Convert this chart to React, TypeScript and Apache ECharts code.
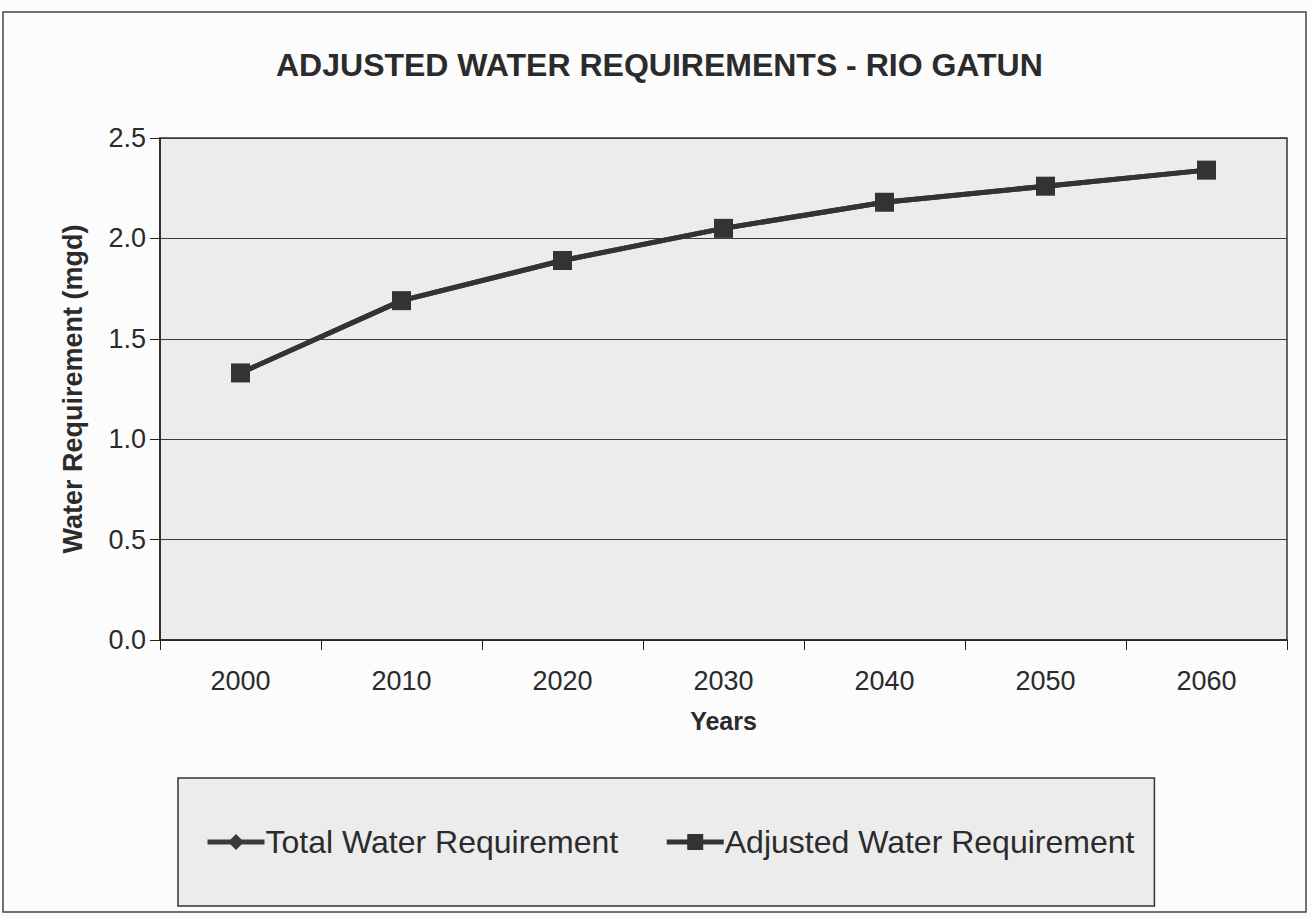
import React, { useEffect, useRef } from "react";
import * as echarts from "echarts";

const years = ["2000", "2010", "2020", "2030", "2040", "2050", "2060"];
const totalWaterRequirement = [1.33, 1.69, 1.89, 2.05, 2.18, 2.26, 2.34];
const adjustedWaterRequirement = [1.33, 1.69, 1.89, 2.05, 2.18, 2.26, 2.34];
const yTicks = { min: 0, max: 2.5, interval: 0.5 };

const FONT = "'Liberation Sans', Arial, sans-serif";
const INK = "#2b2b2b";

export default function App() {
  const ref = useRef<HTMLDivElement>(null);
  useEffect(() => {
    if (!ref.current) return;
    const chart = echarts.init(ref.current, undefined, { renderer: "svg" });
    chart.setOption({
      animation: false,
      backgroundColor: "#fcfcfc",
      textStyle: { fontFamily: FONT, color: INK },
      title: {
        text: "ADJUSTED WATER REQUIREMENTS - RIO GATUN",
        left: 271,
        top: 44,
        textStyle: { fontFamily: FONT, fontSize: 32, fontWeight: "bold", color: INK },
      },
      graphic: [
        {
          type: "rect",
          shape: { x: 3, y: 12, width: 1303, height: 900 },
          style: { fill: "none", stroke: "#444", lineWidth: 1.5 },
          silent: true,
        },
      ],
      legend: {
        left: 178,
        top: 778,
        orient: "horizontal",
        backgroundColor: "#ececec",
        borderColor: "#333",
        borderWidth: 1.5,
        borderRadius: 0,
        padding: [48, 20, 48, 27],
        itemWidth: 57,
        itemHeight: 20,
        itemGap: 46,
        lineStyle: { width: 5 },
        textStyle: { fontFamily: FONT, fontSize: 32, color: INK, padding: [0, 0, 0, -4] },
        data: ["Total Water Requirement", "Adjusted Water Requirement"],
      },
      grid: {
        left: 160,
        right: 24,
        top: 138,
        bottom: 278,
        show: true,
        backgroundColor: "#ececec",
        borderColor: "#333",
        borderWidth: 1.5,
      },
      xAxis: {
        type: "category",
        data: years,
        boundaryGap: true,
        name: "Years",
        nameLocation: "middle",
        nameGap: 68,
        nameTextStyle: { fontFamily: FONT, fontSize: 25, fontWeight: "bold", color: INK },
        axisLine: { lineStyle: { color: "#222", width: 1.5 } },
        axisTick: { show: true, alignWithLabel: false, length: 10, lineStyle: { color: "#222" } },
        axisLabel: { fontFamily: FONT, fontSize: 27, color: INK, margin: 27 },
        splitLine: { show: false },
      },
      yAxis: {
        type: "value",
        min: yTicks.min,
        max: yTicks.max,
        interval: yTicks.interval,
        name: "Water Requirement (mgd)",
        nameLocation: "middle",
        nameGap: 74,
        nameTextStyle: { fontFamily: FONT, fontSize: 27, fontWeight: "bold", color: INK },
        axisLine: { show: true, lineStyle: { color: "#222", width: 1.5 } },
        axisTick: { show: true, length: 10, lineStyle: { color: "#222" } },
        axisLabel: {
          fontFamily: FONT,
          fontSize: 27,
          color: INK,
          margin: 14,
          formatter: (v: number) => v.toFixed(1),
        },
        splitLine: { show: true, lineStyle: { color: "#3a3a3a", width: 1.2 } },
      },
      series: [
        {
          name: "Total Water Requirement",
          type: "line",
          data: totalWaterRequirement,
          symbol: "diamond",
          symbolSize: 18,
          itemStyle: { color: "#3a3a3a" },
          lineStyle: { color: "#3a3a3a", width: 5 },
          z: 2,
        },
        {
          name: "Adjusted Water Requirement",
          type: "line",
          data: adjustedWaterRequirement,
          symbol: "rect",
          symbolSize: 19,
          itemStyle: { color: "#333" },
          lineStyle: { color: "#333", width: 5 },
          z: 3,
        },
      ],
    });
    return () => chart.dispose();
  }, []);
  return (
    <div
      ref={ref}
      style={{ position: "absolute", left: 0, top: 0, width: 1311, height: 918 }}
    />
  );
}
